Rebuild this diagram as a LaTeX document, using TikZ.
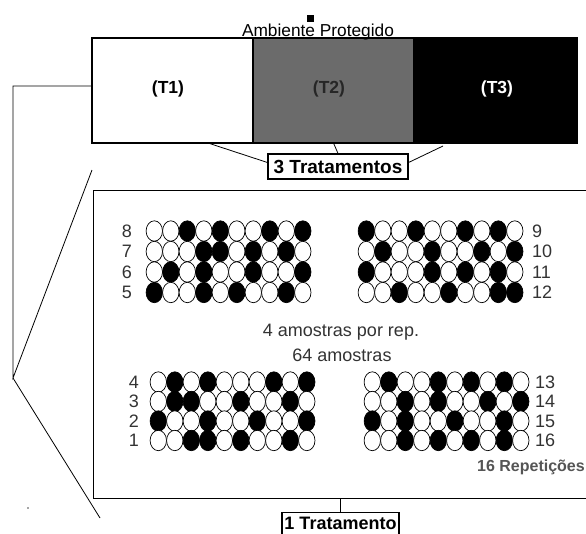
\documentclass[tikz,border=0pt]{standalone}
\usepackage{fontspec}
\setmainfont{Liberation Sans}
\definecolor{midgray}{HTML}{6B6B6B}
\definecolor{txtgray}{HTML}{333333}
\definecolor{repgray}{HTML}{555555}
\begin{document}
\begin{tikzpicture}[x=1pt,y=-1pt,
  boxline/.style={draw=black,line width=1.1pt},
  link/.style={draw=black,line width=0.8pt},
  cell/.style={inner sep=0pt,outer sep=0pt,minimum height=105pt,anchor=north west},
  lbl/.style={font=\fontsize{17.5}{20}\selectfont\bfseries,inner sep=0pt},
  tag/.style={draw=black,line width=1.1pt,fill=white,inner sep=0pt,font=\fontsize{19}{22}\selectfont\bfseries},
  num/.style={font=\fontsize{18}{21}\selectfont,text=txtgray,inner sep=0pt},
  dot/.style={draw=black,line width=0.7pt}]
\useasboundingbox[fill=white] (0,0) rectangle (586,533);

% top box
\node[cell,boxline,fill=white,minimum width=161pt] (t1) at (92,38) {};
\node[cell,boxline,fill=midgray,minimum width=161pt] (t2) at (253,38) {};
\node[cell,boxline,fill=black,minimum width=163pt] (t3) at (414,38) {};
\node[lbl] (l1) at (168,89) {(T1)};
\node[lbl,text=black!85] (l2) at (329,89) {(T2)};
\node[lbl,text=white] (l3) at (497,89) {(T3)};
\node[font=\fontsize{17.3}{20}\selectfont,inner sep=0pt,anchor=base] (amb) at (318,36) {Ambiente Protegido};
\fill[black] (307,15) rectangle (314,22);

% 3 Tratamentos
\node[tag,minimum width=140pt,minimum height=25pt] (trat) at (338,166.5) {3 Tratamentos};
\coordinate (a1) at (208,143);
\coordinate (a2) at (443,146);
\draw[link] (a1) -- ([yshift=4pt]trat.west);
\draw[link] ([yshift=4pt]trat.east) -- (a2);
\draw[link] (t2.south) -- (trat.north);

% inner box
\node[draw=black,line width=1.3pt,inner sep=0pt,minimum width=530pt,minimum height=308pt,anchor=north west] (inner) at (93,190) {};

% left bracket
\coordinate (v1) at (13,86);
\coordinate (v2) at (13,378);
\coordinate (u) at (92,170);
\coordinate (d) at (100,518);
\draw[link] (t1.west |- v1) -- (v1) -- (v2) -- (u);
\draw[link] (v2) -- (d);
\fill[black!70] (28,508) circle (0.8pt);

% 1 Tratamento
\node[tag,font=\fontsize{18}{21}\selectfont\bfseries,minimum width=117pt,minimum height=22pt,anchor=north] (trat1) at (340.5,512) {1 Tratamento};
\draw[link] (trat1.north) -- (trat1.north |- inner.south);

% grids
\foreach \x/\y/\pat in {
  154.3/231/{0,0,1,0,1,0,0,1,0,1},
  154.3/251.5/{0,0,0,1,1,0,1,0,1,0},
  154.3/272/{0,1,0,1,0,0,1,0,0,1},
  154.3/292.5/{1,0,0,1,0,1,0,0,1,0},
  366.3/231/{1,0,0,1,0,0,1,0,1,0},
  366.3/251.5/{0,1,0,0,1,0,0,1,0,1},
  366.3/272/{1,0,0,0,1,0,1,0,1,0},
  366.3/292.5/{0,0,1,0,0,1,0,0,1,1},
  158.3/382/{0,1,0,1,0,0,0,1,0,1},
  158.3/401.5/{0,1,1,0,0,1,0,0,1,0},
  158.3/421/{1,0,0,1,0,0,1,0,0,1},
  158.3/440.5/{0,0,1,1,0,1,0,0,1,0},
  372.3/382/{0,1,0,0,1,0,1,0,1,0},
  372.3/401.5/{0,0,1,0,1,0,0,1,0,1},
  372.3/421/{1,0,1,0,0,1,0,0,1,0},
  372.3/440.5/{0,0,1,0,1,0,1,0,1,0}}{
  \foreach \b [count=\i] in \pat {
    \ifnum\b=1\def\fc{black}\else\def\fc{white}\fi
    \draw[dot,fill=\fc] ({\x+(\i-1)*16.5},\y) ellipse [x radius=8.2pt,y radius=10.2pt];
  }
}

% row labels
\node[num] (n8) at (127,231) {8};
\node[num] (n7) at (127,251.5) {7};
\node[num] (n6) at (127,272) {6};
\node[num] (n5) at (127,292.5) {5};
\node[num,anchor=west] (n9) at (532,231) {9};
\node[num,anchor=west] (n10) at (532,251.5) {10};
\node[num,anchor=west] (n11) at (532,272) {11};
\node[num,anchor=west] (n12) at (532,292.5) {12};
\node[num] (n4) at (134,382) {4};
\node[num] (n3) at (134,401.5) {3};
\node[num] (n2) at (134,421) {2};
\node[num] (n1) at (134,440.5) {1};
\node[num,anchor=west] (n13) at (535,382) {13};
\node[num,anchor=west] (n14) at (535,401.5) {14};
\node[num,anchor=west] (n15) at (535,421) {15};
\node[num,anchor=west] (n16) at (535,440.5) {16};

% center texts
\node[num] (am1) at (341,332) {4 amostras por rep.};
\node[num] (am2) at (342,355) {64 amostras};
\node[font=\fontsize{16}{19}\selectfont\bfseries,text=repgray,inner sep=0pt,anchor=east] (rep) at (585,467) {16 Repetições};
\end{tikzpicture}
\end{document}
